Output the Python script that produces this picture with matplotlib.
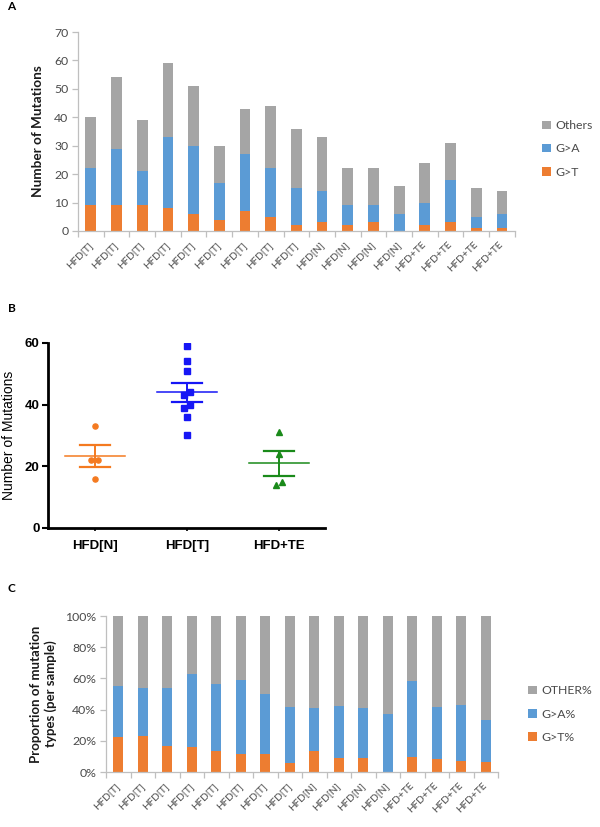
import numpy as np
import matplotlib
matplotlib.use('Agg')
import matplotlib.pyplot as plt
import matplotlib.transforms as mtransforms

# ---------------- data ----------------
# panel A: mutation counts per sample
a_labels = ['HFD[T]'] * 9 + ['HFD[N]'] * 4 + ['HFD+TE'] * 4
a_total = [40, 54, 39, 59, 51, 30, 43, 44, 36, 33, 22, 22, 16, 24, 31, 15, 14]
a_ga_top = [22, 29, 21, 33, 30, 17, 27, 22, 15, 14, 9, 9, 6, 10, 18, 5, 6]
a_gt = [9, 9, 9, 8, 6, 4, 7, 5, 2, 3, 2, 3, 0, 2, 3, 1, 1]

# panel B: groups (values taken from the sample totals of panel A)
b_groups = ['HFD[N]', 'HFD[T]', 'HFD+TE']

# panel C: proportions (%) per sample
c_labels = ['HFD[T]'] * 8 + ['HFD[N]'] * 4 + ['HFD+TE'] * 4
c_gt = [22.5, 23.1, 16.7, 16.3, 13.3, 11.8, 11.4, 5.6, 13.6, 9.1, 9.1, 0, 9.7, 8.3, 7.1, 6.7]
c_ga_top = [55, 53.8, 53.7, 62.8, 56.7, 58.8, 50, 41.7, 40.9, 42.4, 40.9, 37.5, 58.1, 41.7, 42.9, 33.3]

ORANGE = '#ED7D31'
BLUE = '#5B9BD5'
GRAY = '#A5A5A5'
AXC = '#BFBFBF'
TXT = '#4a4a4a'
XL = 'Lato'
AR = 'Liberation Sans'

fig = plt.figure(figsize=(6, 8.27), dpi=100)


def excel_stack(ax, labels, gt, ga_top, top, names):
    gt = np.array(gt, float)
    ga_top = np.array(ga_top, float)
    top = np.array(top, float)
    x = np.arange(len(labels))
    w = 0.42
    b1 = ax.bar(x, gt, w, color=ORANGE, label=names[0])
    b2 = ax.bar(x, ga_top - gt, w, bottom=gt, color=BLUE, label=names[1])
    b3 = ax.bar(x, top - ga_top, w, bottom=ga_top, color=GRAY, label=names[2])
    ax.set_xlim(-0.5, len(labels) - 0.5)
    for s in ['top', 'right']:
        ax.spines[s].set_visible(False)
    for s in ['left', 'bottom']:
        ax.spines[s].set_color(AXC)
        ax.spines[s].set_linewidth(0.9)
    ax.set_xticks(x)
    offset = mtransforms.ScaledTranslation(5 / 72, 0, fig.dpi_scale_trans)
    ax.set_xticklabels(labels, rotation=45, ha='right', va='center',
                       rotation_mode='anchor', fontsize=7.3, color=TXT, family=XL)
    for lab in ax.get_xticklabels():
        lab.set_transform(lab.get_transform() + offset)
    ax.tick_params(axis='x', which='major', length=0, pad=9)
    ax.set_xticks(np.arange(-0.5, len(labels), 1), minor=True)
    ax.tick_params(axis='x', which='minor', length=4, color=AXC, width=0.9)
    ax.tick_params(axis='y', length=4, color=AXC, width=0.9, labelcolor=TXT,
                   labelsize=8.8, pad=3)
    return [b3, b2, b1]


# ---------------- panel A ----------------
axa = fig.add_axes([0.13, 0.7207, 0.728, 0.2406])
ha = excel_stack(axa, a_labels, a_gt, a_ga_top, a_total, ['G>T', 'G>A', 'Others'])
axa.set_ylim(0, 70)
axa.set_yticks(range(0, 71, 10))
for lab in axa.get_yticklabels():
    lab.set_family(XL)
axa.set_ylabel('Number of Mutations', fontsize=9.8, fontweight='bold',
               family=XL, color='#1a1a1a', labelpad=7)
fig.legend(ha, [h.get_label() for h in ha], loc='center left',
           bbox_to_anchor=(0.885, 0.82), frameon=False, handlelength=0.7,
           handleheight=0.7, handletextpad=0.4, labelspacing=1.0,
           prop={'family': XL, 'size': 8.8}, labelcolor=TXT)
fig.text(0.012, 0.992, 'A', fontsize=8.5, fontweight='bold', family=XL, va='center')

# ---------------- panel B ----------------
axb = fig.add_axes([0.08, 0.3616, 0.4617, 0.2237])
b_colors = ['#F47A20', '#1616F5', '#1A8A1A']
b_markers = ['o', 's', '^']


def dodge(vals, step):
    order = np.argsort(vals)
    off = np.zeros(len(vals))
    clusters = []
    for i in order:
        if clusters and abs(vals[i] - vals[clusters[-1][-1]]) < 1.5:
            clusters[-1].append(i)
        else:
            clusters.append([i])
    for c in clusters:
        n = len(c)
        for k, i in enumerate(c):
            off[i] = (k - (n - 1) / 2) * step
    return off


for gi, g in enumerate(b_groups):
    vals = np.array([t for t, l in zip(a_total, a_labels) if l == g], float)
    pos = gi + 1
    m = vals.mean()
    sem = vals.std(ddof=1) / np.sqrt(len(vals))
    col = b_colors[gi]
    axb.plot(pos + dodge(vals, 0.075), vals, linestyle='none',
             marker=b_markers[gi], ms=3.7, color=col, zorder=3)
    axb.plot([pos - 0.33, pos + 0.33], [m, m], color=col, lw=1.1, zorder=2)
    axb.plot([pos, pos], [m - sem, m + sem], color=col, lw=1.4, zorder=2)
    for yy in (m - sem, m + sem):
        axb.plot([pos - 0.16, pos + 0.16], [yy, yy], color=col, lw=1.6, zorder=2)

axb.set_xlim(0.49, 3.5)
axb.set_ylim(0, 60)
axb.set_yticks([0, 20, 40, 60])
axb.set_xticks([1, 2, 3])
axb.set_xticklabels(b_groups)
for s in ['top', 'right']:
    axb.spines[s].set_visible(False)
for s in ['left', 'bottom']:
    axb.spines[s].set_linewidth(2)
axb.tick_params(axis='y', length=4, width=1.5, pad=2)
axb.tick_params(axis='x', length=2.5, width=1.2, pad=6)
for lab in axb.get_xticklabels() + axb.get_yticklabels():
    lab.set_family(AR)
    lab.set_fontweight('bold')
    lab.set_fontsize(9.5)
axb.set_ylabel('Number of Mutations', fontsize=10, family=AR, labelpad=6)
fig.text(0.013, 1 - 309 / 827, 'B', fontsize=8.5, fontweight='bold', family=XL, va='center')

# ---------------- panel C ----------------
axc = fig.add_axes([0.1767, 0.0665, 0.6533, 0.1886])
hc = excel_stack(axc, c_labels, c_gt, c_ga_top, [100] * len(c_labels),
                 ['G>T%', 'G>A%', 'OTHER%'])
axc.set_ylim(0, 100)
axc.set_yticks(range(0, 101, 20))
axc.set_yticklabels(['%d%%' % v for v in range(0, 101, 20)], family=XL)
axc.set_ylabel('Proportion of mutation\ntypes (per sample)', fontsize=9.5,
               fontweight='bold', family=XL, color='#1a1a1a', labelpad=6,
               linespacing=1.2)
fig.legend(hc, [h.get_label() for h in hc], loc='center left',
           bbox_to_anchor=(0.862, 0.1366), frameon=False, handlelength=0.7,
           handleheight=0.7, handletextpad=0.4, labelspacing=1.0,
           prop={'family': XL, 'size': 8.8}, labelcolor=TXT)
fig.text(0.013, 1 - 588 / 827, 'C', fontsize=8.5, fontweight='bold', family=XL, va='center')

fig.savefig('out.png', dpi=100)
